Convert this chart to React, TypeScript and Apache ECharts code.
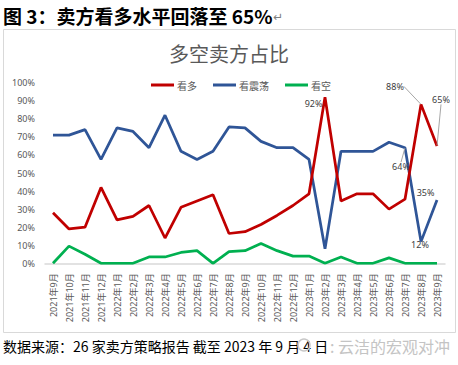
import React, { useEffect, useRef } from "react";
import * as echarts from "echarts";

const months = [
  "2021年9月", "2021年10月", "2021年11月", "2021年12月",
  "2022年1月", "2022年2月", "2022年3月", "2022年4月", "2022年5月", "2022年6月",
  "2022年7月", "2022年8月", "2022年9月", "2022年10月", "2022年11月", "2022年12月",
  "2023年1月", "2023年2月", "2023年3月", "2023年4月", "2023年5月", "2023年6月",
  "2023年7月", "2023年8月", "2023年9月",
];

const seriesNames = ["看多", "看震荡", "看空"];

const bullish = [28, 19, 20, 42, 24, 26, 32, 14, 31, 34.5, 38, 16.5, 17.5, 21.5, 26.5, 32, 38.5, 92, 34.5, 38.5, 38.5, 30, 35.5, 88, 65];
const rangebound = [71, 71, 74, 57.5, 75, 73, 64, 82, 62, 57.5, 62, 75.5, 75, 67.5, 64, 64, 57.5, 8, 62, 62, 62, 67, 64, 12, 35];
const bearish = [0, 9.5, 5, 0, 0, 0, 3.5, 3.5, 6, 7, 0, 6.5, 7, 11, 7, 4, 4, 0, 3.5, 0, 0, 3, 0, 0, 0];

const yMax = 100;
const yStep = 10;

// which points carry a value label (series index, data index) and label placement
const labelSpecs = [
  { series: 0, index: 17, position: "left", dx: 2, dy: 6, line: false },
  { series: 0, index: 23, position: "top", dx: -26, dy: -9, line: true },
  { series: 0, index: 24, position: "top", dx: 4, dy: -37, line: true },
  { series: 1, index: 22, position: "bottom", dx: -4, dy: 10, line: true },
  { series: 1, index: 23, position: "bottom", dx: -1, dy: -6, line: false },
  { series: 1, index: 24, position: "left", dx: 2, dy: -8, line: false },
];

const colors = ["#C00000", "#2F5597", "#00B050"];
const sansFont = '"Noto Sans", "Noto Sans CJK SC", sans-serif';
const cjkFont = '"Noto Sans CJK SC", "Noto Sans", sans-serif';

function buildData(values: number[], seriesIdx: number) {
  return values.map((v, i) => {
    const spec = labelSpecs.find((s) => s.series === seriesIdx && s.index === i);
    if (!spec) return v;
    return {
      value: v,
      symbol: "circle",
      symbolSize: 1,
      itemStyle: { color: "rgba(0,0,0,0)", borderWidth: 0 },
      label: {
        show: true,
        position: spec.position,
        distance: 4,
        formatter: "{c}%",
        fontSize: 9,
        color: "#404040",
        fontFamily: sansFont,
        opacity: 1,
      },
      labelLine: {
        show: spec.line,
        lineStyle: { color: "#a6a6a6", width: 1 },
      },
    };
  });
}

export default function App() {
  const ref = useRef<HTMLDivElement>(null);

  useEffect(() => {
    if (!ref.current) return;
    const chart = echarts.init(ref.current, undefined, { renderer: "svg" });
    const allValues = [bullish, rangebound, bearish];
    const option: any = {
      animation: false,
      backgroundColor: "#ffffff",
      graphic: [
        {
          type: "rect",
          shape: { x: 3.5, y: 29.5, width: 452, height: 303 },
          style: { fill: "none", stroke: "#d9d9d9", lineWidth: 1 },
          silent: true,
        },
        {
          type: "text",
          x: 3,
          y: 15,
          style: {
            text: "图 3：卖方看多水平回落至 65%",
            font: `bold 19px ${cjkFont}`,
            fill: "#000000",
            textVerticalAlign: "middle",
          },
        },
        {
          type: "text",
          x: 273,
          y: 17,
          style: {
            text: "↵",
            font: `12px "DejaVu Sans", sans-serif`,
            fill: "#808080",
            textVerticalAlign: "middle",
          },
        },
        {
          type: "text",
          x: 229,
          y: 53,
          style: {
            text: "多空卖方占比",
            font: `20px ${cjkFont}`,
            fill: "#595959",
            textAlign: "center",
            textVerticalAlign: "middle",
          },
        },
        {
          type: "text",
          x: 3,
          y: 346,
          style: {
            text: "数据来源：26 家卖方策略报告 截至 2023 年 9 月 4 日",
            font: `14px ${cjkFont}`,
            fill: "#000000",
            textVerticalAlign: "middle",
          },
        },
        {
          type: "circle",
          shape: { cx: 304, cy: 345, r: 6 },
          style: { fill: "none", stroke: "#c8c8c8", lineWidth: 1.5 },
          silent: true,
        },
        {
          type: "text",
          x: 330,
          y: 346,
          style: {
            text: ": 云洁的宏观对冲",
            font: `16px ${cjkFont}`,
            fill: "#c4c4c4",
            textVerticalAlign: "middle",
          },
        },
      ],
      legend: {
        left: 146,
        top: 75,
        itemWidth: 23,
        itemHeight: 3,
        itemGap: 16,
        icon: "rect",
        data: seriesNames,
        textStyle: { fontSize: 10, color: "#595959", fontFamily: cjkFont, padding: [0, 0, 0, -2] },
      },
      grid: {
        left: 45,
        right: 13,
        top: 82.7,
        bottom: 101.7,
        outerBoundsMode: "none",
      },
      xAxis: {
        type: "category",
        data: months,
        boundaryGap: true,
        axisLine: { lineStyle: { color: "#d9d9d9", width: 1.5 } },
        axisTick: { show: false },
        axisLabel: {
          rotate: 90,
          interval: 0,
          fontSize: 9,
          color: "#595959",
          margin: 10,
          fontFamily: sansFont,
        },
      },
      yAxis: {
        type: "value",
        min: 0,
        max: yMax,
        interval: yStep,
        axisLine: { show: false },
        axisTick: { show: false },
        splitLine: { show: false },
        axisLabel: {
          formatter: "{value}%",
          fontSize: 9,
          color: "#595959",
          margin: 10,
          fontFamily: sansFont,
        },
      },
      series: seriesNames.map((name, si) => ({
        name,
        type: "line",
        symbol: "none",
        showSymbol: true,
        showAllSymbol: true,
        data: buildData(allValues[si], si),
        lineStyle: { color: colors[si], width: 2.75 },
        itemStyle: { color: colors[si] },
        labelLayout: (params: any) => {
          const spec = labelSpecs.find((s) => s.series === params.seriesIndex && s.index === params.dataIndex);
          return spec ? { dx: spec.dx, dy: spec.dy } : {};
        },
        z: 3 - si,
      })),
    };
    chart.setOption(option);
    return () => chart.dispose();
  }, []);

  return (
    <div
      ref={ref}
      style={{ position: "absolute", left: 0, top: 0, width: 458, height: 365, background: "#fff" }}
    />
  );
}
